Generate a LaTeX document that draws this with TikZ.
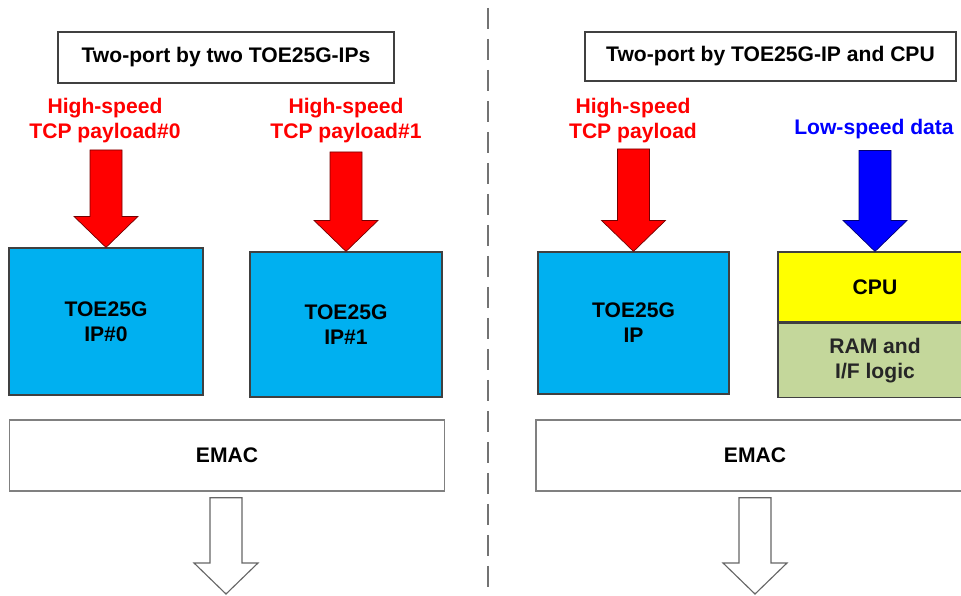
\documentclass[tikz,border=0pt]{standalone}
\usepackage{fontspec}
\setmainfont{Liberation Sans}
\usetikzlibrary{calc,positioning}
\definecolor{ipblue}{HTML}{00B0F0}
\definecolor{cpuyellow}{HTML}{FFFF00}
\definecolor{ramgreen}{HTML}{C4D79B}
\definecolor{fastred}{HTML}{FF0000}
\definecolor{slowblue}{HTML}{0000FF}
\newcommand\pxu{0.025cm}
% block arrow: style, from, tip, gap below the from point
\newcommand\fatarrow[4]{%
  \draw[#1] ($(#2 -| #3)+(-16,#4)$) -- ($(#3)+(-16,-31)$) -- ($(#3)+(-32,-31)$)
    -- (#3) -- ($(#3)+(32,-31)$) -- ($(#3)+(16,-31)$) -- ($(#2 -| #3)+(16,#4)$) -- cycle;}
\tikzset{
    titlebox/.style={
        rectangle,
        draw=black!75,
        line width=0.8pt,
        fill=white,
        inner sep=0pt
    },
    ipbox/.style={
        rectangle,
        draw=black!75,
        line width=0.8pt,
        fill=ipblue,
        align=center,
        inner sep=0pt
    },
    cpubox/.style={ipbox, fill=cpuyellow},
    rambox/.style={ipbox, fill=ramgreen, text=black!85},
    emacbox/.style={
        rectangle,
        draw=black!50,
        line width=1pt,
        fill=white,
        inner sep=0pt
    },
    fastlabel/.style={text=fastred, align=center, inner sep=0pt, anchor=south},
    slowlabel/.style={text=slowblue, inner sep=0pt, anchor=south},
    redarrow/.style={fill=fastred, draw=red!45!black, line width=0.5pt, line join=miter},
    bluearrow/.style={fill=slowblue, draw=blue!45!black, line width=0.5pt},
    hollowarrow/.style={fill=white, draw=black!60, line width=0.8pt},
    divider/.style={draw=black!55, line width=1.4pt, dash pattern=on 21*\pxu off 10*\pxu},
    font={\fontsize{15}{17.8}\selectfont\bfseries},
}

\begin{document}
\begin{tikzpicture}[x=\pxu, y=-\pxu]
\path[use as bounding box, clip] (0,0) rectangle (961,596);

% left half
\node[titlebox, minimum width=336*\pxu, minimum height=51*\pxu] (ttl0) at (226,57.5) {Two-port by two TOE25G-IPs};
\node[fastlabel] (lbl0) at (105,143) {High-speed\\TCP payload\#0};
\node[fastlabel] (lbl1) at (346,143) {High-speed\\TCP payload\#1};
\node[ipbox, minimum width=194*\pxu, minimum height=147*\pxu] (ip0) at (106,321.5) {TOE25G\\IP\#0};
\node[ipbox, minimum width=192*\pxu, minimum height=145*\pxu] (ip1) at (346,324.5) {TOE25G\\IP\#1};
\node[emacbox, minimum width=435*\pxu, minimum height=71*\pxu] (emac0) at (227,455.5) {EMAC};
\coordinate (out0) at (226,594);

\fatarrow{redarrow}{lbl0.south}{ip0.north}{7}
\fatarrow{redarrow}{lbl1.south}{ip1.north}{9}
\fatarrow{hollowarrow}{emac0.south}{out0}{6}

\draw[divider] (488,8) -- (488,596);

% right half
\node[titlebox, minimum width=371*\pxu, minimum height=49*\pxu] (ttl1) at (770.5,56.5) {Two-port by TOE25G-IP and CPU};
\node[fastlabel] (lbl2) at (633,143) {High-speed\\TCP payload};
\node[slowlabel] (lbl3) at (874,139.5) {Low-speed data};
\node[ipbox, minimum width=191*\pxu, minimum height=142*\pxu] (ip2) at (633.5,323) {TOE25G\\IP};
\node[cpubox, minimum width=194*\pxu, minimum height=70*\pxu] (cpu) at (875,287) {CPU};
\node[rambox, minimum width=194*\pxu, minimum height=74*\pxu, below=0pt of cpu] (ram) {RAM and\\I/F logic};
\node[emacbox, minimum width=438*\pxu, minimum height=71*\pxu] (emac1) at (755,455.5) {EMAC};
\coordinate (out1) at (755,594);

\fatarrow{redarrow}{lbl2.south}{ip2.north}{6}
\fatarrow{bluearrow}{lbl3.south}{cpu.north}{11}
\fatarrow{hollowarrow}{emac1.south}{out1}{6}
\end{tikzpicture}
\end{document}
